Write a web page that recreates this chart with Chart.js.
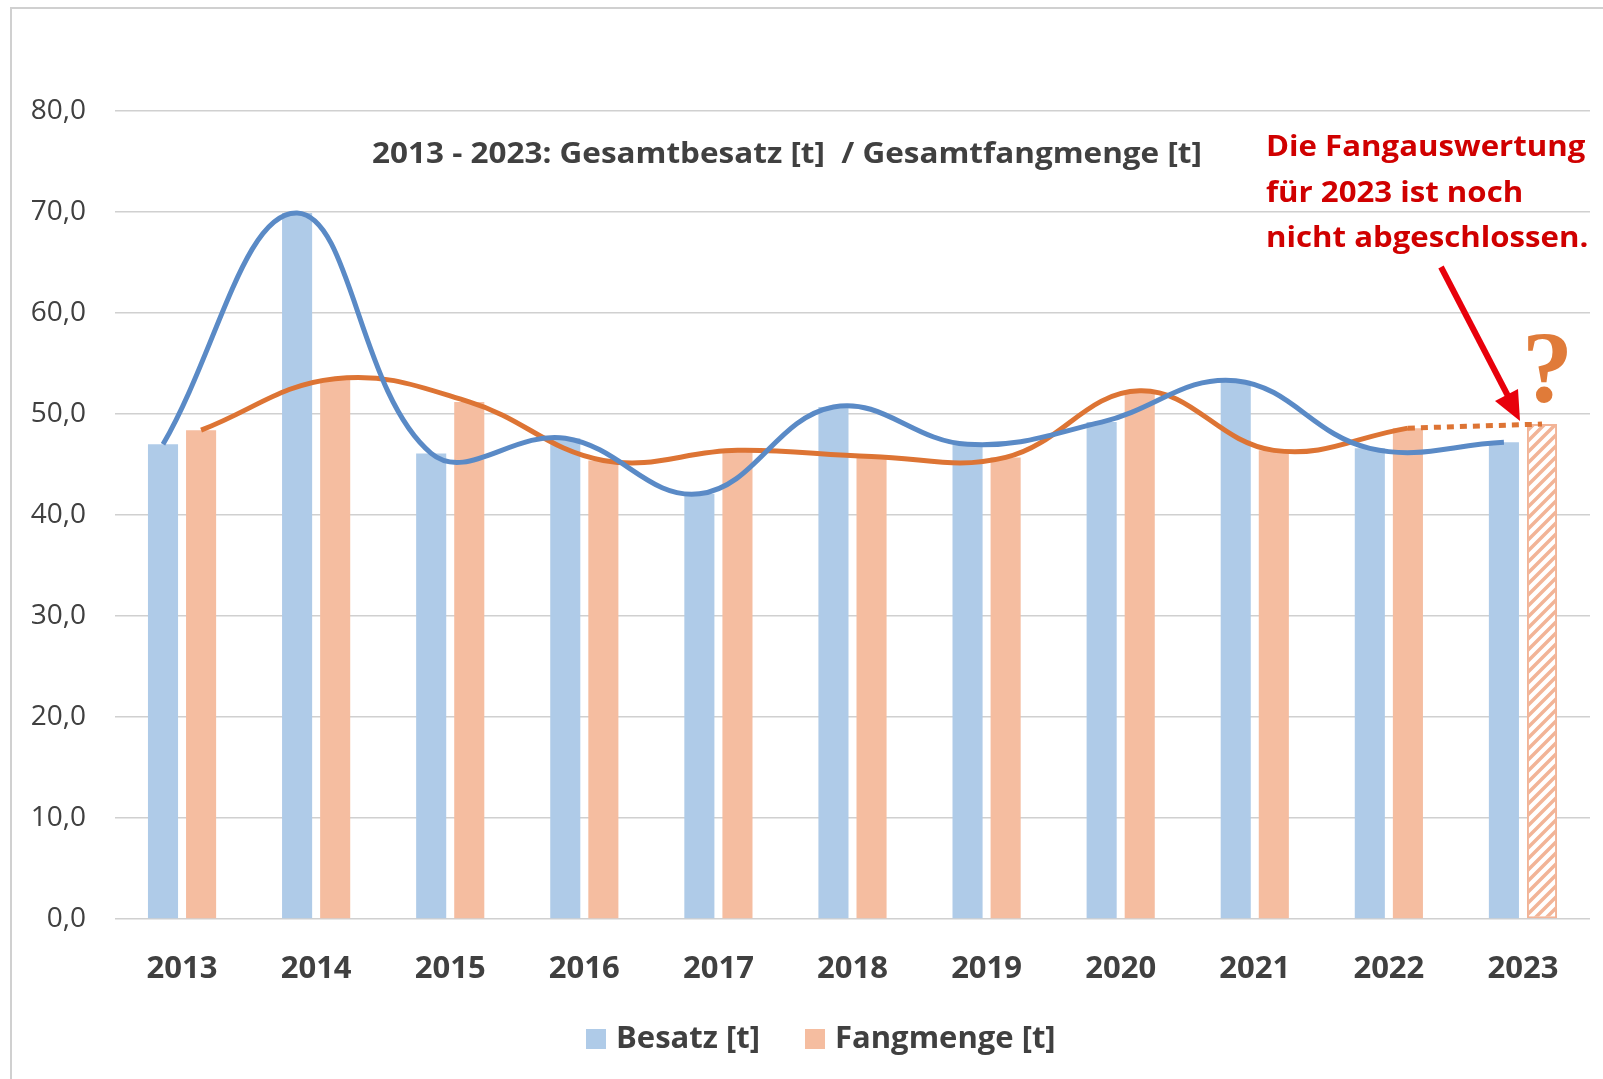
<!DOCTYPE html>
<html>
<head>
<meta charset="utf-8">
<script src="https://cdn.jsdelivr.net/npm/chart.js@4/dist/chart.umd.min.js"></script>
<style>
body { margin: 0; background: #fff; }
#wrap { position: relative; width: 1603px; height: 1079px; overflow: hidden; font-family: 'Open Sans', sans-serif; }
#frame { position: absolute; left: 10px; top: 7px; width: 1620px; height: 1100px; border: 2px solid #d0d0d0; box-sizing: border-box; }
canvas { position: absolute; left: 0; top: 0; }
.txt { position: absolute; white-space: pre; line-height: 1; transform-origin: 0 0; }
#title { left: 372px; top: 137px; font-size: 29px; font-weight: bold; color: #404040; transform: scaleX(1.085); }
#note { left: 1266px; top: 122px; font-size: 29px; line-height: 45.5px; font-weight: bold; color: #d00000; transform: scaleX(1.075); }
#qm { left: 1522px; top: 317px; font-family: 'Liberation Serif', serif; font-size: 102px; font-weight: bold; color: #e07b39; }
.leg { position: absolute; top: 1018px; font-size: 31px; font-weight: bold; color: #404040; line-height: 36px; white-space: pre; }
.leg i { display: inline-block; width: 20px; height: 20px; margin-right: 10px; vertical-align: -1px; }
svg { position: absolute; left: 0; top: 0; }
</style>
</head>
<body>
<div id="wrap">
  <div id="frame"></div>
  <canvas id="c" width="1603" height="1079"></canvas>
  <div class="txt" id="title">2013 - 2023: Gesamtbesatz [t]  / Gesamtfangmenge [t]</div>
  <div class="txt" id="note">Die Fangauswertung
für 2023 ist noch
nicht abgeschlossen.</div>
  <div class="txt" id="qm">?</div>
  <svg width="1603" height="1079">
    <line x1="1441" y1="267" x2="1508" y2="396" stroke="#e8000b" stroke-width="6"/>
    <polygon points="1520,421 1495,401 1518,389" fill="#e8000b"/>
  </svg>
  <div class="leg" style="left:586px"><i style="background:#afcbe8"></i>Besatz [t]</div>
  <div class="leg" style="left:805px"><i style="background:#f5bda0"></i>Fangmenge [t]</div>
</div>
<script>
const years = ['2013', '2014', '2015', '2016', '2017', '2018', '2019', '2020', '2021', '2022', '2023']
const besatz = [47.0, 69.9, 46.1, 47.6, 42.1, 50.7, 47.0, 49.2, 53.3, 46.6, 47.2]
const fangmenge = [48.4, 53.5, 51.2, 45.4, 46.4, 45.8, 45.7, 52.3, 46.4, 48.6, 49.0]
const yTicks = [0, 10, 20, 30, 40, 50, 60, 70, 80]

// both bars of a year sit this far left/right of the year centre (in categories)
const off = 0.142

Chart.defaults.font.family = "'Open Sans', sans-serif"
Chart.defaults.color = '#404040'

// hatch for the unfinished 2023 catch
let pc = document.createElement('canvas')
pc.width = 11
pc.height = 11
let p = pc.getContext('2d')
p.fillStyle = '#fff'
p.fillRect(0, 0, 11, 11)
p.strokeStyle = '#f2b497'
p.lineWidth = 3.5
p.beginPath()
p.moveTo(-2, 13); p.lineTo(13, -2)
p.moveTo(-8, 8); p.lineTo(8, -8)
p.moveTo(3, 19); p.lineTo(19, 3)
p.stroke()
const hatch = p.createPattern(pc, 'repeat')

const last = years.length - 1
const besatzPts = besatz.map((v, i) => ({ x: i - off, y: v }))
const fangPts = fangmenge.map((v, i) => ({ x: i + off, y: v }))

new Chart(document.getElementById('c'), {
    data: {
        labels: years,
        datasets: [{
            type: 'line', xAxisID: 'xl', order: 0,
            data: besatzPts, borderColor: '#5a8ac6', borderWidth: 5,
            tension: 0.4, pointRadius: 0, fill: false
        }, {
            type: 'line', xAxisID: 'xl', order: 0,
            data: fangPts.slice(0, last), borderColor: '#dd7434', borderWidth: 5,
            tension: 0.4, pointRadius: 0, fill: false
        }, {
            type: 'line', xAxisID: 'xl', order: 0,
            data: fangPts.slice(last - 1), borderColor: '#dd7434', borderWidth: 5,
            borderDash: [7, 6], pointRadius: 0, fill: false
        }, {
            type: 'bar', xAxisID: 'xl', order: 1, label: 'Besatz [t]',
            data: besatzPts, backgroundColor: '#afcbe8',
            grouped: false, categoryPercentage: 1, barPercentage: 0.79
        }, {
            type: 'bar', xAxisID: 'xl', order: 1, label: 'Fangmenge [t]',
            data: fangPts,
            backgroundColor: fangmenge.map((v, i) => i == last ? hatch : '#f5bda0'),
            borderColor: '#f2b497',
            borderWidth: c => c.dataIndex == last ? 2 : 0,
            borderSkipped: false,
            grouped: false, categoryPercentage: 1, barPercentage: 0.79
        }]
    },
    options: {
        responsive: false,
        animation: false,
        layout: { padding: { left: 11, right: 13, top: 111, bottom: 80 } },
        plugins: { legend: { display: false }, tooltip: { enabled: false } },
        scales: {
            x: {
                type: 'category', offset: true,
                grid: { display: false, drawTicks: false },
                border: { display: false },
                ticks: { padding: 32, font: { size: 31, weight: 'bold' }, color: '#404040' },
                afterFit: s => { s.height = 80 }
            },
            xl: { type: 'linear', display: false, offset: false, min: -0.5, max: last + 0.5 },
            y: {
                min: 0, max: 80,
                afterBuildTicks: s => { s.ticks = yTicks.map(v => ({ value: v })) },
                grid: { color: '#d0d0d0', lineWidth: 1.5, drawTicks: false },
                border: { display: false },
                ticks: {
                    padding: 29, font: { size: 28 }, color: '#404040',
                    callback: v => v.toFixed(1).replace('.', ',')
                },
                afterFit: s => { s.width = 104 }
            }
        }
    }
})
</script>
</body>
</html>
